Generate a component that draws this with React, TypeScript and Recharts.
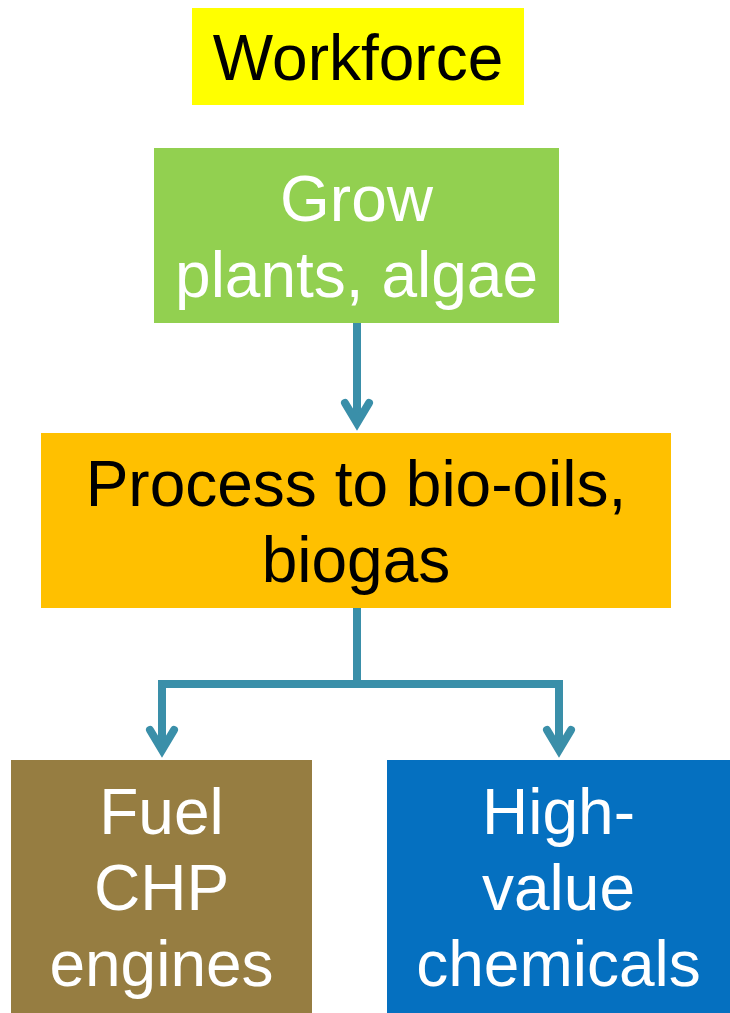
import { ComposedChart, XAxis, YAxis, ReferenceArea, Line } from 'recharts'

// flowchart laid out on a 730 x 1013 grid (y grows downwards)
const boxLabels = [
  ['Workforce'],
  ['Grow', 'plants, algae'],
  ['Process to bio-oils,', 'biogas'],
  ['Fuel', 'CHP', 'engines'],
  ['High-', 'value', 'chemicals'],
]
const boxColors = ['#FFFF00', '#92D050', '#FFC000', '#967D41', '#0570C0']
const textColors = ['#000000', '#FFFFFF', '#000000', '#FFFFFF', '#FFFFFF']
const boxLeft = [192, 154, 41, 11, 387]
const boxRight = [524, 559, 671, 312, 730]
const boxTop = [8, 148, 433, 760, 760]
const boxBottom = [105, 323, 608, 1013, 1013]

const connectors = [
  [{ x: 357, y: 323 }, { x: 357, y: 423 }],
  [{ x: 357, y: 608 }, { x: 357, y: 684 }],
  [{ x: 162, y: 750 }, { x: 162, y: 684 }, { x: 559, y: 684 }, { x: 559, y: 750 }],
]
const arrowHeads = [
  [{ x: 345, y: 403 }, { x: 357, y: 423 }, { x: 369, y: 403 }],
  [{ x: 150, y: 730 }, { x: 162, y: 750 }, { x: 174, y: 730 }],
  [{ x: 547, y: 730 }, { x: 559, y: 750 }, { x: 571, y: 730 }],
]

const ARROW = '#3A8FA9'
const FONT = '"Liberation Sans", Arial, Helvetica, sans-serif'
const LINE_H = 76

function BoxLabel({ viewBox, lines, color }: any) {
  if (!viewBox) return null
  const cx = viewBox.x + viewBox.width / 2
  const cy = viewBox.y + viewBox.height / 2
  const first = cy - ((lines.length - 1) * LINE_H) / 2 + 23
  return (
    <text textAnchor="middle" fill={color} fontFamily={FONT} fontSize={64}>
      {lines.map((l: string, i: number) => (
        <tspan key={i} x={cx} y={first + i * LINE_H}>{l}</tspan>
      ))}
    </text>
  )
}

export default function App() {
  return (
    <div style={{ position: 'absolute', left: 0, top: 0, background: '#fff' }}>
      <ComposedChart width={730} height={1013} margin={{ top: 0, right: 0, bottom: 0, left: 0 }}>
        <XAxis type="number" dataKey="x" domain={[0, 730]} hide allowDataOverflow />
        <YAxis type="number" dataKey="y" domain={[0, 1013]} reversed hide allowDataOverflow width={0} />
        {boxLabels.map((lines, i) => (
          <ReferenceArea
            key={'box' + i}
            x1={boxLeft[i]}
            x2={boxRight[i]}
            y1={boxTop[i]}
            y2={boxBottom[i]}
            fill={boxColors[i]}
            fillOpacity={1}
            stroke="none"
            ifOverflow="visible"
            label={(p: any) => <BoxLabel viewBox={p.viewBox} lines={lines} color={textColors[i]} />}
          />
        ))}
        {connectors.map((d, i) => (
          <Line
            key={'link' + i}
            data={d}
            dataKey="y"
            type="linear"
            stroke={ARROW}
            strokeWidth={8}
            strokeLinejoin="miter"
            strokeLinecap="butt"
            dot={false}
            activeDot={false}
            isAnimationActive={false}
          />
        ))}
        {arrowHeads.map((d, i) => (
          <Line
            key={'head' + i}
            data={d}
            dataKey="y"
            type="linear"
            stroke={ARROW}
            strokeWidth={8}
            strokeLinejoin="miter"
            strokeLinecap="round"
            dot={false}
            activeDot={false}
            isAnimationActive={false}
          />
        ))}
      </ComposedChart>
    </div>
  )
}
